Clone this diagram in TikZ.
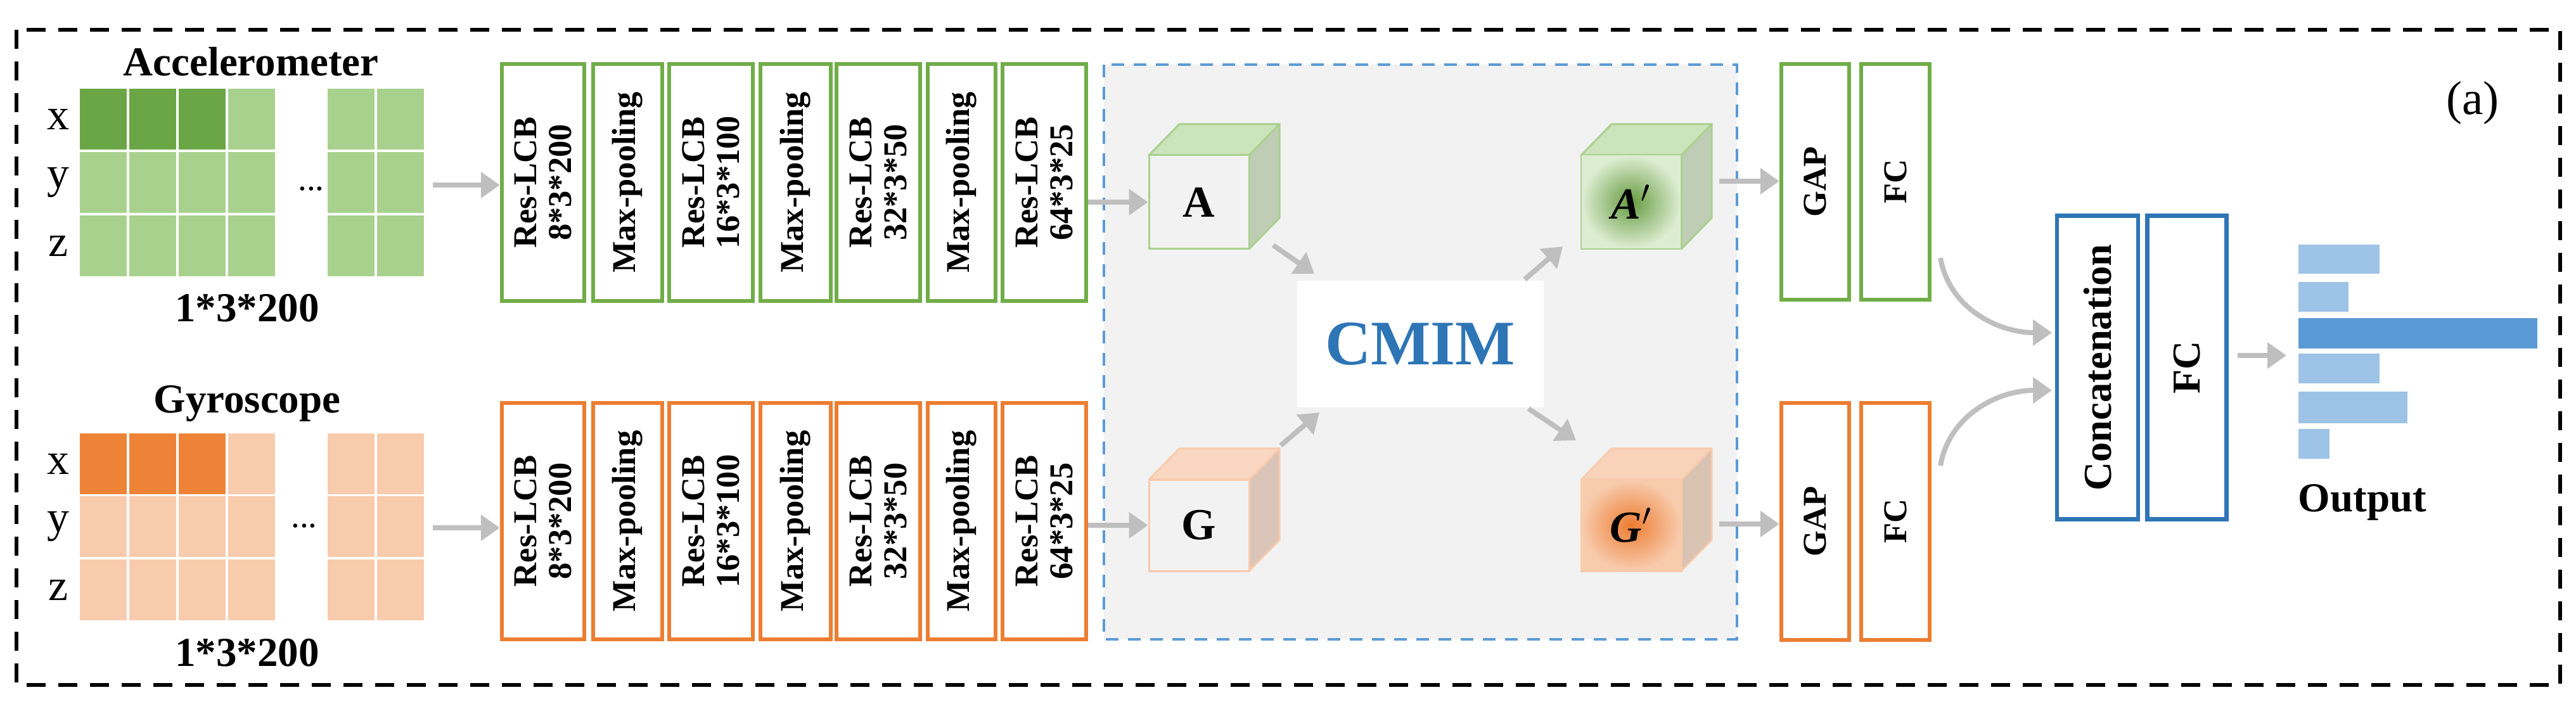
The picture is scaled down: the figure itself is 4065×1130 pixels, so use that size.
\documentclass[tikz,border=0pt]{standalone}
\usepackage{fontspec}
\setmainfont{Liberation Serif}
\usetikzlibrary{arrows.meta}
\definecolor{gB}{HTML}{70AD47}\definecolor{gL}{HTML}{A9D18E}\definecolor{gD}{HTML}{6AA646}
\definecolor{oB}{HTML}{ED7D31}\definecolor{oL}{HTML}{F8CBAD}\definecolor{oD}{HTML}{EE8338}
\definecolor{bB}{HTML}{2E75B6}\definecolor{bL}{HTML}{9DC3E6}\definecolor{bD}{HTML}{5B9BD5}
\definecolor{arr}{HTML}{BFBFBF}
\newcommand{\blk}[7]{%
 \pgfmathsetmacro\cx{(#2+#3)/2}\pgfmathsetmacro\cy{(#4+#5)/2}%
 \pgfmathsetmacro\ww{(#3-#2)*0.2}\pgfmathsetmacro\hh{(#5-#4)*0.2}%
 \node[draw=#6,line width=1.3pt,fill=white,minimum width=\ww pt,minimum height=\hh pt,inner sep=0pt] (#1) at (\cx,\cy) {};%
 \node[rotate=90,font=\bfseries\fontsize{10.5}{11}\selectfont,align=center] at (#1.center) {#7};}
\newcommand{\cube}[7]{% name x1 x2 y1 y2 colorfill colorborder
 \fill[#6!80!black!70!white,opacity=0.9] (#3,#4) -- (#3+48,#4-49) -- (#3+48,#5-49) -- (#3,#5) -- cycle;
 \fill[#6!85!white] (#2,#4) -- (#2+48,#4-49) -- (#3+48,#4-49) -- (#3,#4) -- cycle;
 \draw[#7,line width=0.6pt] (#2,#4) -- (#2+48,#4-49) -- (#3+48,#4-49) -- (#3+48,#5-49) -- (#3,#5);
 \draw[#7,line width=0.6pt] (#3,#4) -- (#3+48,#4-49);
 \pgfmathsetmacro\cx{(#2+#3)/2}\pgfmathsetmacro\cy{(#4+#5)/2}%
 \pgfmathsetmacro\ww{(#3-#2)*0.2}\pgfmathsetmacro\hh{(#5-#4)*0.2}%
 \node[draw=#7,line width=0.6pt,minimum width=\ww pt,minimum height=\hh pt,inner sep=0pt,#1] at (\cx,\cy) {};}
\tikzset{ga/.style={draw=arr,line width=1.6pt,-{Triangle[length=6pt,width=8pt]}},
 lab/.style={font=\bfseries\fontsize{13}{14}\selectfont}}
\begin{document}
\begin{tikzpicture}[x=0.2pt,y=-0.2pt]
\useasboundingbox (0,0) rectangle (4065,1130);
\draw[line width=1.2pt,dash pattern=on 6pt off 4pt] (26,47) rectangle (4040,1081);
% grids
\foreach \y/\c in {140/gD,240/gL,340/gL}{
 \foreach \x in {126,204,282}{\fill[\c] (\x,\y) rectangle (\x+74,\y+96);}
 \foreach \x in {360,517,595}{\fill[gL] (\x,\y) rectangle (\x+74,\y+96);}}
\foreach \y/\c in {684/oD,783/oL,883/oL}{
 \foreach \x in {126,204,282}{\fill[\c] (\x,\y) rectangle (\x+74,\y+96);}
 \foreach \x in {360,517,595}{\fill[oL] (\x,\y) rectangle (\x+74,\y+96);}}
\node[lab] at (396,97) {Accelerometer};
\node[lab] at (390,637) {Gyroscope};
\node[lab] at (390,486) {1*3*200};
\node[lab] at (390,1030) {1*3*200};
\foreach \t/\y in {x/188,y/288,z/388}{\node[font=\fontsize{14}{15}\selectfont] at (92,\y) {\t};}
\foreach \t/\y in {x/732,y/831,z/931}{\node[font=\fontsize{14}{15}\selectfont] at (92,\y) {\t};}
\node[font=\fontsize{11}{11}\selectfont] at (491,298) {...};
\node[font=\fontsize{11}{11}\selectfont] at (480,830) {...};
\coordinate (ga) at (683,292); \coordinate (gg) at (683,833);
% blocks
\foreach \r/\ya/\yb/\col in {t/101/475/gB,b/636/1009/oB}{
 \blk{\r1}{792}{922}{\ya}{\yb}{\col}{Res-LCB\\8*3*200}
 \blk{\r2}{936}{1045}{\ya}{\yb}{\col}{Max-pooling}
 \blk{\r3}{1056}{1188}{\ya}{\yb}{\col}{Res-LCB\\16*3*100}
 \blk{\r4}{1200}{1311}{\ya}{\yb}{\col}{Max-pooling}
 \blk{\r5}{1320}{1452}{\ya}{\yb}{\col}{Res-LCB\\32*3*50}
 \blk{\r6}{1464}{1571}{\ya}{\yb}{\col}{Max-pooling}
 \blk{\r7}{1582}{1714}{\ya}{\yb}{\col}{Res-LCB\\64*3*25}
}
\draw[ga] (ga) -- (t1.west|-ga);
\draw[ga] (gg) -- (b1.west|-gg);
% CMIM region
\draw[bD,fill=black!5,line width=0.8pt,dash pattern=on 4pt off 3pt] (1742,102) rectangle (2741,1009);
\cube{name=A}{1813}{1971}{245}{393}{gL!70!white}{gL}
\cube{name=Ap,fill=none}{2495}{2653}{245}{393}{gL!70!white}{gL}
\cube{name=G}{1813}{1971}{757}{901}{oL!90!white}{oL}
\cube{name=Gp}{2495}{2653}{757}{901}{oL}{oL}
\shade[inner color=gB!90!black,outer color=gL!40!white] (2496,246) rectangle (2652,392);
\shade[inner color=oB,outer color=oL] (2496,758) rectangle (2652,900);
\node[font=\bfseries\fontsize{14}{15}\selectfont] at (A.center) {A};
\node[font=\bfseries\fontsize{14}{15}\selectfont] at (G.center) {G};
\node[font=\bfseries\itshape\fontsize{14}{15}\selectfont] at (Ap.center) {A$'$};
\node[font=\bfseries\itshape\fontsize{14}{15}\selectfont] at (Gp.center) {G$'$};
\node[fill=white,minimum width=77.8pt,minimum height=40pt,text=bB,font=\bfseries\fontsize{20}{22}\selectfont] (C) at (2241,543) {CMIM};
\draw[ga] (t7.east|-A.west) ++(0,0) -- (A.west);
\draw[ga] (b7.east|-G.west) -- (G.west);
\draw[ga] (2009,387) -- (2074,432);
\draw[ga] (2406,441) -- (2466,389);
\draw[ga] (2021,703) -- (2082,651);
\draw[ga] (2412,645) -- (2487,695);
% GAP FC
\blk{gap1}{2811}{2918}{101}{473}{gB}{GAP}
\blk{fc1}{2937}{3045}{101}{473}{gB}{FC}
\blk{gap2}{2811}{2918}{636}{1010}{oB}{GAP}
\blk{fc2}{2937}{3045}{636}{1010}{oB}{FC}
\draw[ga] (2713,286) -- (gap1.west|-0,286);
\draw[ga] (2713,827) -- (gap2.west|-0,827);
\pgfmathsetmacro\dummy{0}
\node[draw=bB,line width=1.3pt,minimum width=25.6pt,minimum height=95.8pt,inner sep=0pt] (cat) at (3310,580) {};
\node[rotate=90,font=\bfseries\fontsize{12.5}{13}\selectfont] at (cat) {Concatenation};
\node[draw=bB,line width=1.3pt,minimum width=25pt,minimum height=95.8pt,inner sep=0pt] (fc3) at (3451,580) {};
\node[rotate=90,font=\bfseries\fontsize{12.5}{13}\selectfont] at (fc3) {FC};
\draw[ga] (3062,407) to[out=-80,in=180] (3238,525);
\draw[ga] (3062,735) to[out=80,in=180] (3238,616);
\coordinate (o) at (3608,561);
\draw[ga] (fc3.east|-o) ++(14,0) -- (o);
\fill[bL] (3627,386) rectangle (3755,432);
\fill[bL] (3627,445) rectangle (3706,492);
\fill[bD] (3627,502) rectangle (4004,550);
\fill[bL] (3627,558) rectangle (3755,605);
\fill[bL] (3627,618) rectangle (3799,668);
\fill[bL] (3627,677) rectangle (3676,724);
\node[lab] at (3728,793) {Output};
\node[font=\fontsize{15}{16}\selectfont] at (3902,162) {(a)};
\end{tikzpicture}
\end{document}
